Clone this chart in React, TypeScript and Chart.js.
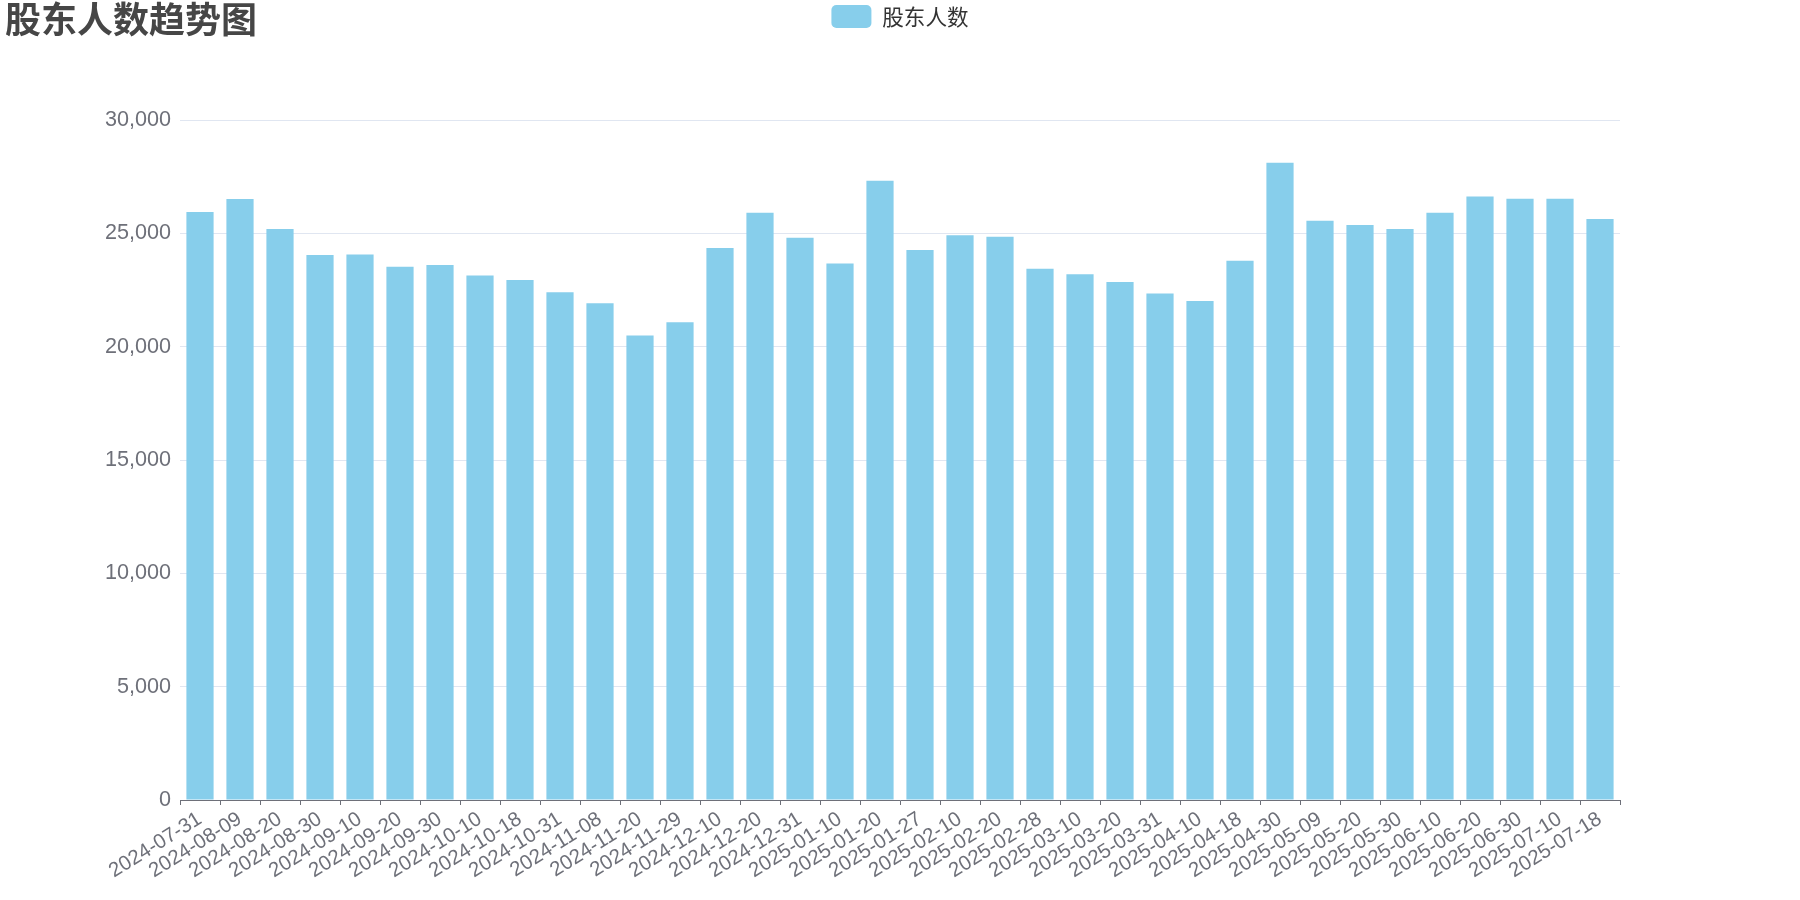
import React, { useEffect, useRef } from 'react';
import { Chart, registerables } from 'chart.js';

Chart.register(...registerables);

const chartTitle = '股东人数趋势图';
const seriesName = '股东人数';

const dates = [
  '2024-07-31', '2024-08-09', '2024-08-20', '2024-08-30', '2024-09-10', '2024-09-20',
  '2024-09-30', '2024-10-10', '2024-10-18', '2024-10-31', '2024-11-08', '2024-11-20',
  '2024-11-29', '2024-12-10', '2024-12-20', '2024-12-31', '2025-01-10', '2025-01-20',
  '2025-01-27', '2025-02-10', '2025-02-20', '2025-02-28', '2025-03-10', '2025-03-20',
  '2025-03-31', '2025-04-10', '2025-04-18', '2025-04-30', '2025-05-09', '2025-05-20',
  '2025-05-30', '2025-06-10', '2025-06-20', '2025-06-30', '2025-07-10', '2025-07-18',
];

const holders = [
  25940, 26520, 25190, 24040, 24070, 23530,
  23600, 23140, 22940, 22400, 21920, 20490,
  21080, 24350, 25910, 24810, 23670, 27320,
  24260, 24910, 24850, 23440, 23190, 22850,
  22350, 22010, 23790, 28110, 25550, 25370,
  25190, 25910, 26620, 26530, 26530, 25630,
];

const yMin = 0;
const yMax = 30000;
const yStep = 5000;

const LATIN = "'Liberation Sans', 'Noto Sans CJK SC', sans-serif";
const CJK = "'Noto Sans CJK SC', 'Liberation Sans', sans-serif";

export default function App() {
  const ref = useRef<HTMLCanvasElement>(null);

  useEffect(() => {
    const canvas = ref.current;
    if (!canvas) return;

    const titlePlugin = {
      id: 'leftTitle',
      afterDraw(chart: any) {
        const ctx = chart.ctx;
        ctx.save();
        ctx.font = `bold 36px ${CJK}`;
        ctx.fillStyle = '#464646';
        ctx.textAlign = 'left';
        ctx.textBaseline = 'middle';
        ctx.fillText(chartTitle, 5, 19);
        ctx.restore();
      },
    };

    const legendSpace = {
      id: 'legendSpace',
      beforeInit(chart: any) {
        const legend = chart.legend;
        if (!legend) return;
        const fit = legend.fit;
        legend.fit = function () {
          fit.call(this);
          this.height += 82;
        };
      },
      afterLayout(chart: any) {
        const legend = chart.legend;
        if (!legend) return;
        legend.left = 0;
        legend.right = chart.width;
        legend.width = chart.width;
      },
    };

    const chart = new Chart(canvas, {
      type: 'bar',
      data: {
        labels: dates,
        datasets: [
          {
            label: seriesName,
            data: holders,
            backgroundColor: '#87CEEB',
            borderWidth: 0,
            barPercentage: 0.68,
            categoryPercentage: 1.0,
          },
        ],
      },
      options: {
        responsive: false,
        animation: false,
        devicePixelRatio: 1,
        layout: { padding: { left: 0, right: 180, top: 0, bottom: 0 } },
        plugins: {
          title: { display: false },
          tooltip: { enabled: false },
          legend: {
            display: true,
            position: 'top',
            align: 'center',
            labels: {
              boxWidth: 40,
              boxHeight: 23,
              padding: 5,
              useBorderRadius: true,
              borderRadius: 5,
              color: '#333333',
              font: { family: CJK, size: 21.6 },
            },
          },
        },
        scales: {
          x: {
            offset: true,
            grid: {
              display: true,
              offset: true,
              drawOnChartArea: false,
              drawTicks: true,
              tickLength: 5,
              color: '#6e7079',
            },
            border: { display: true, color: '#6e7079', width: 1 },
            ticks: {
              autoSkip: false,
              minRotation: 32,
              maxRotation: 32,
              padding: 2,
              color: '#6e7079',
              font: { family: LATIN, size: 20.5 },
            },
            afterFit(scale: any) {
              scale.height = 100;
            },
          },
          y: {
            min: yMin,
            max: yMax,
            grid: {
              color: '#e0e6f1',
              drawTicks: false,
            },
            border: { display: false },
            ticks: {
              stepSize: yStep,
              padding: 9,
              color: '#6e7079',
              font: { family: LATIN, size: 21.6 },
            },
            afterFit(scale: any) {
              scale.width = 180;
            },
          },
        },
      },
      plugins: [titlePlugin, legendSpace],
    });

    return () => chart.destroy();
  }, []);

  return (
    <div style={{ position: 'fixed', left: 0, top: 0, width: 1800, height: 900, background: '#ffffff' }}>
      <canvas ref={ref} width={1800} height={900} style={{ display: 'block', width: 1800, height: 900 }} />
    </div>
  );
}
